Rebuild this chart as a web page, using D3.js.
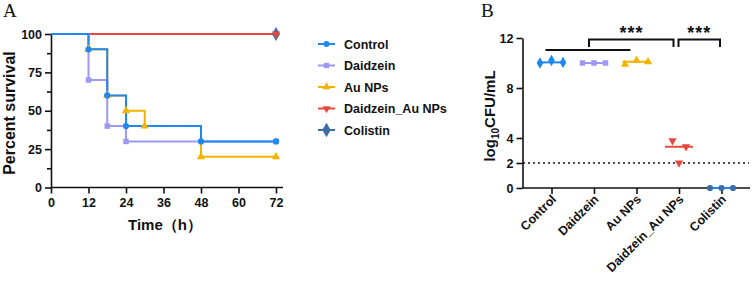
<!DOCTYPE html>
<html lang="en">
<head>
    <meta charset="UTF-8">
    <title>Survival and bacterial load</title>
    <style>
        body { margin: 0; background: #fff; }
        svg text { font-family: Arial, "Liberation Sans", sans-serif; font-weight: bold; fill: #111; }
        .panel-letter { font-family: "Times New Roman", "Liberation Serif", serif; font-weight: normal; font-size: 19px; }
        .tick text { font-size: 12.5px; }
    </style>
</head>
<body>
<svg width="753" height="281"></svg>
<script src="https://d3js.org/d3.v7.min.js"></script>
<script>

    // ---- data: panel A (Kaplan-Meier steps) ----
    const groups = ['Control', 'Daidzein', 'Au NPs', 'Daidzein_Au NPs', 'Colistin'];
    const colors = ['#1E88F0', '#9C98F4', '#F5B300', '#E8483C', '#3B6CA6'];

    const controlTimes = [0, 12, 18, 24, 48, 72];
    const controlSurv = [100, 90, 60, 40, 30, 30];
    const daidzeinTimes = [0, 12, 18, 24, 72];
    const daidzeinSurv = [100, 70, 40, 30, 30];
    const auTimes = [0, 12, 18, 24, 30, 48, 72];
    const auSurv = [100, 90, 60, 50, 40, 20, 20];
    const comboTimes = [0, 72];
    const comboSurv = [100, 100];
    const colistinTimes = [0, 72];
    const colistinSurv = [100, 100];

    const timeTicks = [0, 12, 24, 36, 48, 60, 72];
    const survTicks = [0, 25, 50, 75, 100];
    const survMinor = [12.5, 37.5, 62.5, 87.5];

    // ---- data: panel B (log10 CFU/mL) ----
    const controlCfu = [10.0, 10.2, 10.05];
    const daidzeinCfu = [10.0, 10.0, 10.0];
    const auCfu = [9.9, 10.2, 10.1];
    const comboCfu = [3.78, 3.3, 2.0];
    const colistinCfu = [0, 0, 0];
    const cfuTicks = [0, 2, 4, 8, 12];
    const detectionLimit = 2;

    const svg = d3.select('svg');

    const symbolTypes = [d3.symbolCircle, d3.symbolSquare, d3.symbolTriangle, d3.symbolTriangle, d3.symbolDiamond];
    const symbolRotate = [0, 0, 0, 180, 0];

    const marker = function (i, size) {
        return d3.symbol().type(symbolTypes[i]).size(size)();
    };

    // ================= Panel A =================
    const xA = d3.scaleLinear().domain([0, 72]).range([51, 276]);
    const yA = d3.scaleLinear().domain([0, 100]).range([187.5, 34]);

    svg.append('text').attr('class', 'panel-letter').attr('x', 3).attr('y', 17).text('A');

    const gA = svg.append('g');

    gA.append('g')
        .attr('transform', 'translate(0,' + yA(0) + ')')
        .call(d3.axisBottom(xA).tickValues(timeTicks).tickSize(6).tickPadding(5).tickSizeOuter(0))
        .call(g => g.select('.domain').attr('d', 'M' + xA(0) + ',0H283'));

    gA.append('g')
        .attr('transform', 'translate(' + xA(0) + ',0)')
        .call(d3.axisLeft(yA).tickValues(survTicks).tickSize(6).tickPadding(3).tickSizeOuter(0));

    gA.append('g')
        .attr('transform', 'translate(' + xA(0) + ',0)')
        .call(d3.axisLeft(yA).tickValues(survMinor).tickSize(4).tickFormat('').tickSizeOuter(0))
        .call(g => g.select('.domain').remove());

    gA.selectAll('.domain, .tick line').attr('stroke', '#111').attr('stroke-width', 1.6);

    svg.append('text')
        .attr('transform', 'translate(15,' + 113 + ') rotate(-90)')
        .attr('text-anchor', 'middle')
        .style('font-size', '16px')
        .text('Percent survival');

    svg.append('text')
        .attr('x', 165).attr('y', 230)
        .attr('text-anchor', 'middle')
        .style('font-size', '15px')
        .text('Time（h）');

    const curves = [
        [controlTimes, controlSurv],
        [daidzeinTimes, daidzeinSurv],
        [auTimes, auSurv],
        [comboTimes, comboSurv],
        [colistinTimes, colistinSurv]
    ];

    const step = d3.line()
        .x(d => xA(d[0]))
        .y(d => yA(d[1]))
        .curve(d3.curveStepAfter);

    const drawOrder = [4, 3, 2, 1, 0];

    drawOrder.forEach(function (i) {
        const pts = d3.zip(curves[i][0], curves[i][1]);
        gA.append('path')
            .attr('d', step(pts))
            .attr('fill', 'none')
            .attr('stroke', colors[i])
            .attr('stroke-width', 2);
    });

    drawOrder.forEach(function (i) {
        const pts = d3.zip(curves[i][0], curves[i][1]);
        gA.selectAll(null)
            .data(pts.slice(1))
            .enter()
            .append('path')
            .attr('d', marker(i, i === 4 ? 55 : 30))
            .attr('fill', colors[i])
            .attr('transform', d => 'translate(' + xA(d[0]) + ',' + yA(d[1]) + ') rotate(' + symbolRotate[i] + ')');
    });

    // legend
    const legend = svg.append('g').attr('transform', 'translate(318,44)');
    groups.forEach(function (name, i) {
        const row = legend.append('g').attr('transform', 'translate(0,' + (i * 21.5) + ')');
        row.append('line')
            .attr('x1', 0).attr('x2', 17)
            .attr('stroke', colors[i]).attr('stroke-width', 2);
        row.append('path')
            .attr('d', marker(i, i === 4 ? 60 : 28))
            .attr('fill', colors[i])
            .attr('transform', 'translate(8.5,0) rotate(' + symbolRotate[i] + ')');
        row.append('text')
            .attr('x', 26).attr('y', 4.5)
            .style('font-size', '12.5px')
            .text(name);
    });

    // ================= Panel B =================
    const xB = d3.scalePoint().domain(groups).range([551.5, 721.5]);
    const yB = d3.scaleLinear().domain([0, 12]).range([188, 38]);

    svg.append('text').attr('class', 'panel-letter').attr('x', 481).attr('y', 17).text('B');

    const gB = svg.append('g');

    const xAxisB = gB.append('g')
        .attr('transform', 'translate(0,' + yB(0) + ')')
        .call(d3.axisBottom(xB).tickSize(6).tickSizeOuter(0))
        .call(g => g.select('.domain').attr('d', 'M' + 522.5 + ',0H750'));

    xAxisB.selectAll('.tick text')
        .attr('text-anchor', 'end')
        .attr('dy', null)
        .attr('transform', 'translate(5,12) rotate(-45)')
        .attr('y', 0);

    gB.append('g')
        .attr('transform', 'translate(522.5,0)')
        .call(d3.axisLeft(yB).tickValues(cfuTicks).tickSize(6).tickPadding(3).tickSizeOuter(0));

    gB.selectAll('.domain, .tick line').attr('stroke', '#111').attr('stroke-width', 1.6);

    const yLabel = svg.append('text')
        .attr('transform', 'translate(495,116) rotate(-90)')
        .attr('text-anchor', 'middle')
        .style('font-size', '15px');
    yLabel.append('tspan').text('log');
    yLabel.append('tspan').attr('dy', 4).style('font-size', '10px').text('10');
    yLabel.append('tspan').attr('dy', -4).text('CFU/mL');

    // detection limit
    gB.append('line')
        .attr('x1', 523).attr('x2', 749)
        .attr('y1', yB(detectionLimit)).attr('y2', yB(detectionLimit))
        .attr('stroke', '#111').attr('stroke-width', 1.3)
        .attr('stroke-dasharray', '2,3');

    const cfuValues = [controlCfu, daidzeinCfu, auCfu, comboCfu, colistinCfu];
    const jitter = [[-11.5, 0, 11.5], [-11.5, 0, 11.5], [-11.5, 0, 11.5], [-6.5, 7, 0], [-11.5, 0, 11.5]];
    const cfuSymbols = [d3.symbolDiamond, d3.symbolSquare, d3.symbolTriangle, d3.symbolTriangle, d3.symbolCircle];
    const lineColors = ['#1E88F0', '#9C98F4', '#F5B300', '#E8483C', '#1E88F0'];

    cfuValues.forEach(function (vals, i) {
        const cx = xB(groups[i]);
        const med = d3.median(vals);
        gB.append('line')
            .attr('x1', cx - 14).attr('x2', cx + 14)
            .attr('y1', yB(med)).attr('y2', yB(med))
            .attr('stroke', lineColors[i]).attr('stroke-width', 2);
        gB.selectAll(null)
            .data(vals)
            .enter()
            .append('path')
            .attr('d', d3.symbol().type(cfuSymbols[i]).size(i === 0 ? 38 : 30)())
            .attr('fill', colors[i])
            .attr('transform', (d, k) => 'translate(' + (cx + jitter[i][k]) + ',' + yB(d) + ') rotate(' + symbolRotate[i] + ')');
    });

    // significance marks
    const sig = gB.append('g').attr('stroke', '#111').attr('stroke-width', 2).attr('fill', 'none');
    sig.append('line')
        .attr('x1', xB('Control') - 6).attr('x2', xB('Au NPs') - 6)
        .attr('y1', 50).attr('y2', 50);
    sig.append('path')
        .attr('d', 'M' + (xB('Daidzein') - 5) + ',47V39.5H' + (xB('Daidzein_Au NPs') - 5.5) + 'V47');
    sig.append('path')
        .attr('d', 'M' + (xB('Daidzein_Au NPs') - 0.5) + ',47V39.5H' + (xB('Colistin') - 1.5) + 'V47');

    [[xB('Au NPs') - 5, '***'], [(xB('Daidzein_Au NPs') + xB('Colistin')) / 2 - 1, '***']].forEach(function (s) {
        gB.append('text')
            .attr('x', s[0]).attr('y', 39)
            .attr('text-anchor', 'middle')
            .style('font-size', '18px')
            .style('letter-spacing', '1px')
            .text(s[1]);
    });

</script>
</body>
</html>
